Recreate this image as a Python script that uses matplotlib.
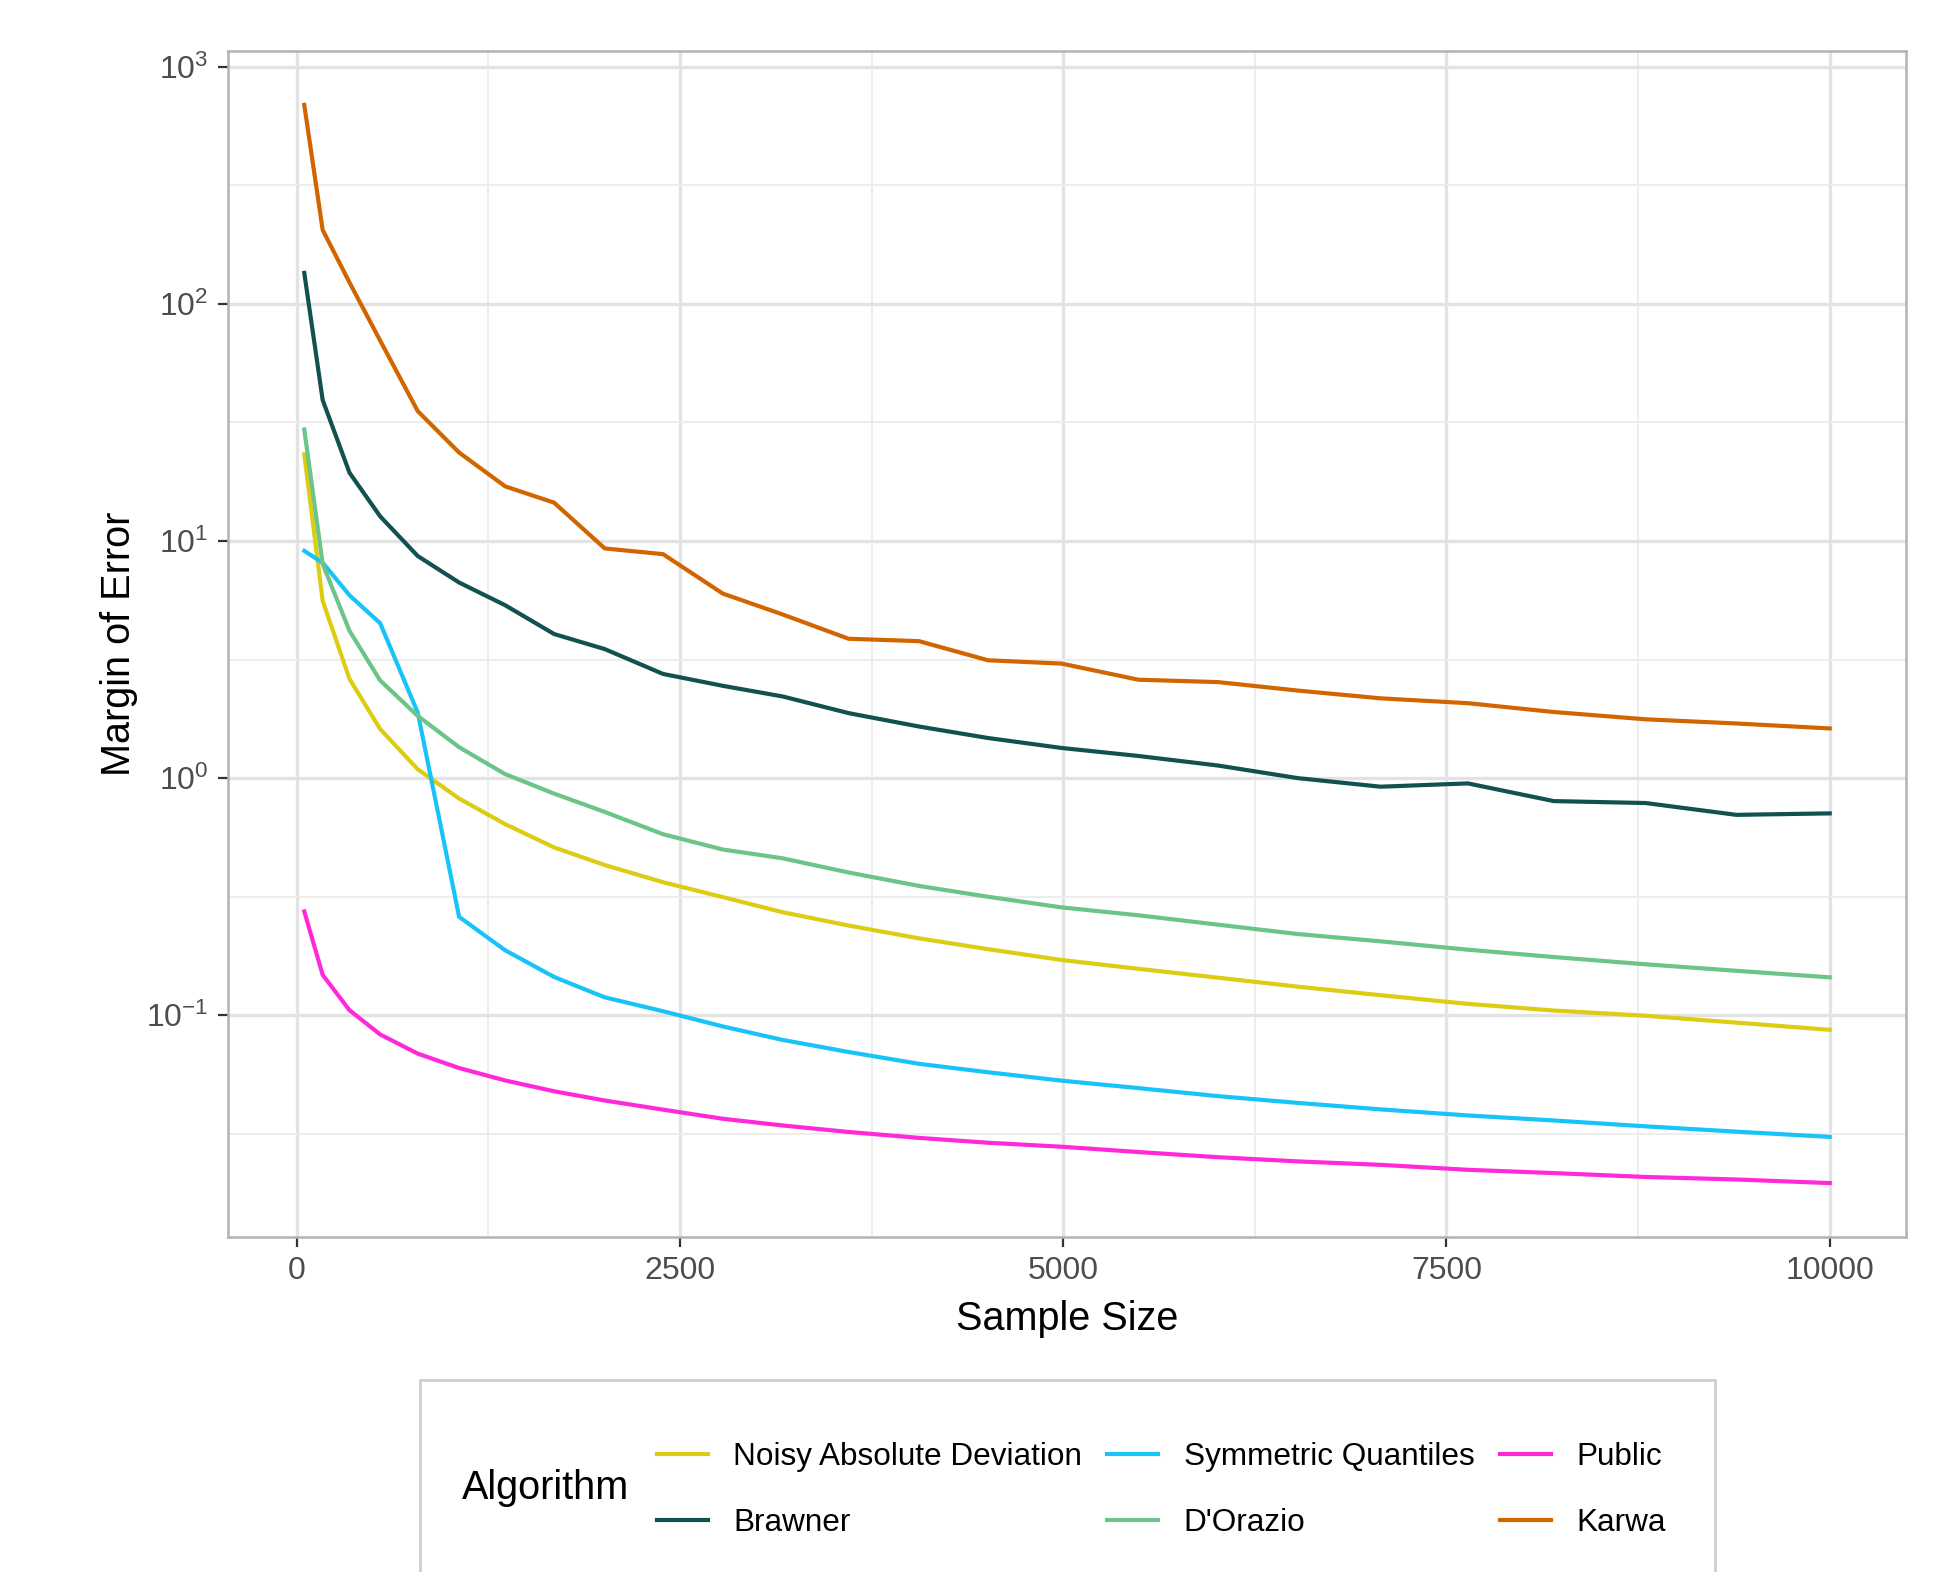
import numpy as np
import matplotlib
matplotlib.use("Agg")
import matplotlib.pyplot as plt
from matplotlib.patches import Rectangle
from matplotlib.ticker import FixedLocator, NullFormatter, LogFormatterMathtext

# ---- Data ----
sample_size = [50, 170, 345, 545, 790, 1060, 1360, 1680, 2010, 2390, 2780, 3170, 3600,
               4060, 4510, 4990, 5490, 6010, 6530, 7070, 7640, 8200, 8800, 9390, 10000]

noisy_abs_dev = [23.2, 5.59, 2.62, 1.61, 1.09, 0.82, 0.64, 0.51, 0.43, 0.364, 0.315, 0.272,
                 0.239, 0.211, 0.19, 0.171, 0.157, 0.144, 0.132, 0.1215, 0.1117, 0.1047,
                 0.0995, 0.0931, 0.0868]
brawner = [135, 39.3, 19.4, 12.7, 8.64, 6.68, 5.36, 4.05, 3.50, 2.75, 2.45, 2.21, 1.88,
           1.65, 1.476, 1.34, 1.24, 1.13, 1.0, 0.92, 0.95, 0.80, 0.785, 0.70, 0.71]
sym_quantiles = [9.08, 8.1, 5.9, 4.5, 1.89, 0.26, 0.188, 0.145, 0.119, 0.104, 0.0897, 0.0787,
                 0.070, 0.0624, 0.0575, 0.053, 0.0493, 0.0456, 0.0427, 0.0401, 0.0378, 0.036,
                 0.034, 0.0323, 0.0307]
dorazio = [29.5, 8.0, 4.18, 2.58, 1.83, 1.35, 1.04, 0.86, 0.72, 0.58, 0.50, 0.459, 0.40,
           0.351, 0.316, 0.285, 0.264, 0.241, 0.220, 0.205, 0.189, 0.176, 0.164, 0.154, 0.1445]
public = [0.274, 0.148, 0.105, 0.083, 0.0689, 0.0599, 0.0531, 0.0478, 0.0437, 0.040, 0.0366,
          0.0343, 0.0322, 0.0304, 0.029, 0.0279, 0.0265, 0.0252, 0.0242, 0.0234, 0.0223,
          0.0216, 0.0208, 0.0203, 0.0196]
karwa = [690, 205, 123, 70, 35.3, 23.6, 17, 14.5, 9.3, 8.8, 6.0, 4.9, 3.87, 3.78, 3.14, 3.04,
         2.60, 2.54, 2.34, 2.17, 2.07, 1.90, 1.77, 1.70, 1.62]

# legend order is column-major so rows read like the ggplot legend
series = [
    ("Noisy Absolute Deviation", noisy_abs_dev, "#DCCC13"),
    ("Brawner", brawner, "#115150"),
    ("Symmetric Quantiles", sym_quantiles, "#18C3F7"),
    ("D'Orazio", dorazio, "#6CC489"),
    ("Public", public, "#FF29D9"),
    ("Karwa", karwa, "#D16500"),
]

x_ticks = [0, 2500, 5000, 7500, 10000]
x_minor = [1250, 3750, 6250, 8750]
y_ticks = [1e-1, 1e0, 1e1, 1e2, 1e3]
y_minor = [10 ** (k + 0.5) for k in range(-2, 3)]

FONT = ["Liberation Sans", "DejaVu Sans"]
plt.rcParams["font.family"] = FONT
plt.rcParams["mathtext.fontset"] = "custom"
plt.rcParams["mathtext.rm"] = "Liberation Sans"
plt.rcParams["mathtext.it"] = "Liberation Sans"

fig = plt.figure(figsize=(19.54, 15.72), dpi=100)
ax = fig.add_axes([228 / 1954, 1 - 1237 / 1572, (1906 - 228) / 1954, (1237 - 51) / 1572])

handles = []
for name, vals, col in series:
    h, = ax.plot(sample_size, vals, color=col, linewidth=3.0, label=name,
                 solid_joinstyle="miter", zorder=3)
    handles.append(h)

ax.set_yscale("log")
# ggplot style 5% expansion
xr = max(sample_size) - min(sample_size)
ax.set_xlim(min(sample_size) - 0.05 * xr, max(sample_size) + 0.05 * xr)
allv = np.log10(np.concatenate([np.array(v) for _, v, _ in series]))
lr = allv.max() - allv.min()
ax.set_ylim(10 ** (allv.min() - 0.05 * lr), 10 ** (allv.max() + 0.05 * lr))

ax.xaxis.set_major_locator(FixedLocator(x_ticks))
ax.xaxis.set_minor_locator(FixedLocator(x_minor))
ax.yaxis.set_major_locator(FixedLocator(y_ticks))
ax.yaxis.set_minor_locator(FixedLocator(y_minor))
ax.yaxis.set_major_formatter(LogFormatterMathtext())
ax.yaxis.set_minor_formatter(NullFormatter())
ax.set_xticklabels([str(t) for t in x_ticks])

ax.grid(True, which="major", color="#E3E3E3", linewidth=2.4, zorder=0)
ax.grid(True, which="minor", color="#EDEDED", linewidth=1.4, zorder=0)
ax.set_axisbelow(True)
ax.tick_params(which="major", length=7, width=1.6, color="#333333",
               labelsize=23, labelcolor="#4D4D4D", pad=7)
ax.tick_params(which="minor", length=0)
for spine in ax.spines.values():
    spine.set_color("#B3B3B3")
    spine.set_linewidth(1.8)

ax.set_xlabel("Sample Size", fontsize=28.5, color="black", labelpad=10)
ax.set_ylabel("Margin of Error", fontsize=28.5, color="black", labelpad=6)

# legend box (runs off the bottom edge like the reference)
fig.patches.append(Rectangle((420 / 1954, -0.05), (1715 - 420) / 1954, 0.05 + 1 - 1380 / 1572,
                             transform=fig.transFigure, fill=False,
                             edgecolor="#CFCFCF", linewidth=2.0))
fig.text(462 / 1954, 1 - 1488 / 1572, "Algorithm", fontsize=28.5, va="center", ha="left")
fig.legend(handles=handles, ncol=3, loc="center left",
           bbox_to_anchor=(657 / 1954, 1 - 1490 / 1572), frameon=False,
           fontsize=22.7, handlelength=1.62, handletextpad=0.8, columnspacing=0.8,
           labelspacing=1.12, borderpad=0, borderaxespad=0)

fig.savefig("out.png", dpi=100)
